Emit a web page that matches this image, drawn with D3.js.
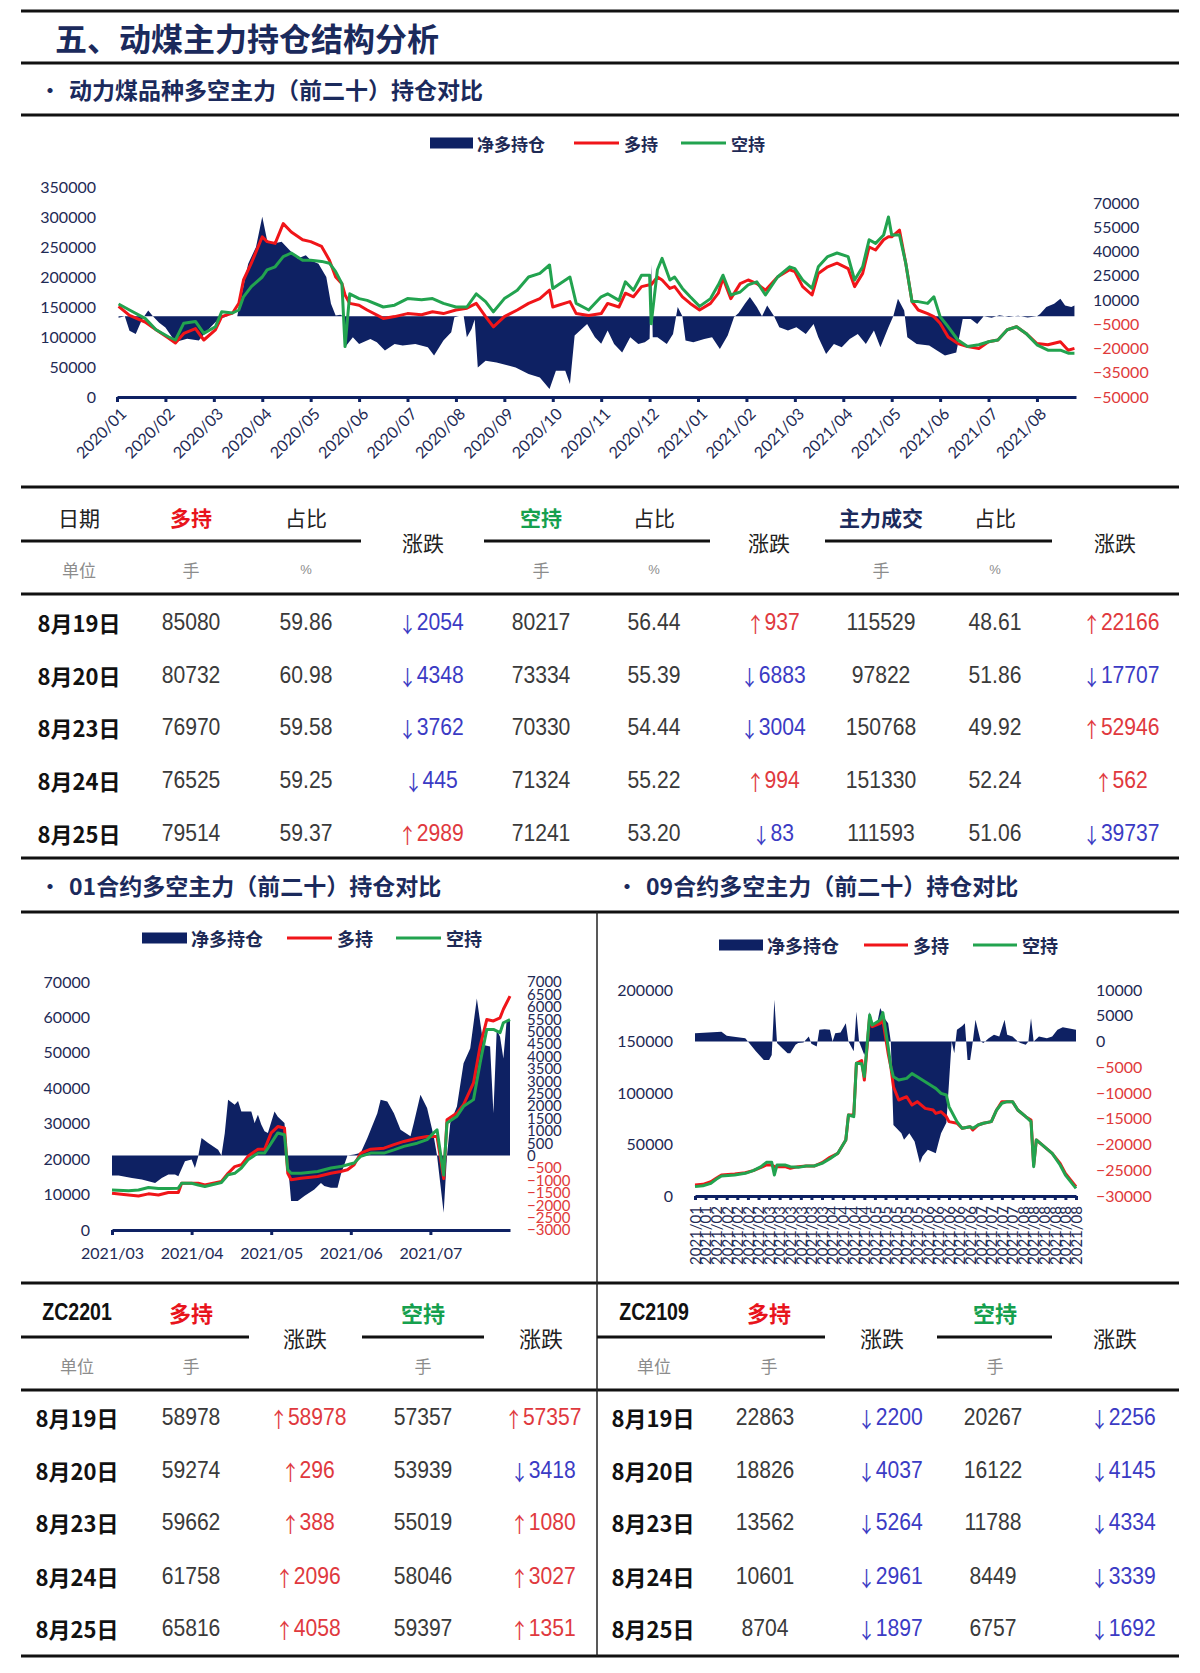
<!DOCTYPE html>
<html><head><meta charset="utf-8">
<script src="https://cdn.jsdelivr.net/npm/d3@7"></script>
<style>body{margin:0;background:#fff}</style>
</head><body>
<svg id="c" width="1200" height="1673"></svg>
<script>
// ================= DATA =================
// Top chart: 动力煤品种多空主力（前二十）持仓
const topLineDates = [
"2020/01/02","2020/01/09","2020/01/19","2020/01/26","2020/02/03","2020/02/07","2020/02/12","2020/02/19","2020/02/24","2020/03/02",
"2020/03/06","2020/03/13","2020/03/17","2020/03/20","2020/03/25","2020/04/01","2020/04/04","2020/04/09","2020/04/14","2020/04/19",
"2020/04/26","2020/05/01","2020/05/08","2020/05/13","2020/05/17","2020/05/21","2020/05/23","2020/05/26","2020/06/01","2020/06/06",
"2020/06/16","2020/06/23","2020/07/01","2020/07/10","2020/07/17","2020/07/24","2020/08/01","2020/08/08","2020/08/14","2020/08/20",
"2020/08/25","2020/09/01","2020/09/09","2020/09/16","2020/09/23","2020/09/29","2020/10/01","2020/10/12","2020/10/16","2020/10/24",
"2020/11/01","2020/11/05","2020/11/12","2020/11/16","2020/11/21","2020/11/26","2020/12/01","2020/12/02","2020/12/06","2020/12/09",
"2020/12/14","2020/12/17","2020/12/22","2020/12/27","2021/01/02","2021/01/09","2021/01/14","2021/01/17","2021/01/22","2021/01/28",
"2021/02/02","2021/02/07","2021/02/12","2021/02/19","2021/02/26","2021/03/01","2021/03/06","2021/03/12","2021/03/16","2021/03/22",
"2021/03/28","2021/04/04","2021/04/08","2021/04/13","2021/04/17","2021/04/21","2021/04/26","2021/04/29","2021/05/01","2021/05/06",
"2021/05/10","2021/05/14","2021/05/18","2021/05/24","2021/05/28","2021/06/01","2021/06/06","2021/06/12","2021/06/18","2021/06/25",
"2021/07/01","2021/07/07","2021/07/13","2021/07/19","2021/07/25","2021/08/01","2021/08/08","2021/08/16","2021/08/21","2021/08/25"];
const topLong = [
151000,136000,125000,112000,98000,90000,106000,114000,95000,112000,
134000,140000,156000,195000,223000,267000,259000,256000,289000,275000,
262000,259000,251000,228000,200000,189000,170000,156000,153000,145000,
131000,134000,139000,137000,142000,139000,145000,148000,156000,134000,
117000,134000,145000,156000,164000,178000,150000,159000,139000,136000,
139000,156000,150000,173000,167000,184000,187000,187000,200000,195000,
181000,184000,167000,156000,145000,156000,173000,198000,164000,189000,
195000,189000,178000,200000,212000,209000,184000,170000,206000,217000,
223000,214000,184000,206000,250000,245000,262000,267000,267000,278000,
223000,159000,145000,139000,134000,123000,100000,89000,84000,81000,
92000,95000,112000,117000,106000,89000,87000,92000,78000,81000];
const topShort = [
155000,145000,131000,112000,100000,95000,123000,126000,106000,117000,
142000,140000,145000,167000,184000,200000,212000,217000,234000,240000,
228000,228000,226000,223000,209000,189000,84000,172000,164000,161000,
150000,153000,164000,162000,164000,156000,150000,150000,172000,159000,
142000,164000,178000,200000,206000,220000,181000,200000,156000,145000,
167000,172000,161000,192000,178000,203000,203000,122000,212000,231000,
195000,200000,181000,167000,151000,164000,187000,203000,170000,175000,
187000,192000,170000,200000,217000,214000,195000,181000,217000,234000,
240000,234000,195000,217000,262000,256000,270000,300000,270000,270000,
223000,159000,159000,156000,167000,134000,117000,95000,84000,87000,
92000,95000,112000,117000,106000,87000,78000,78000,73000,73000];
const topNetDates = [
"2020/01/02","2020/01/06","2020/01/09","2020/01/13","2020/01/17","2020/01/21","2020/01/24","2020/01/28","2020/02/01","2020/02/07",
"2020/02/14","2020/02/21","2020/02/26","2020/03/04","2020/03/10","2020/03/16","2020/03/18","2020/03/23","2020/03/28","2020/04/01",
"2020/04/04","2020/04/08","2020/04/13","2020/04/18","2020/04/23","2020/04/28","2020/05/01","2020/05/06","2020/05/11","2020/05/14",
"2020/05/17","2020/05/20","2020/05/22","2020/05/23","2020/05/28","2020/06/01","2020/06/08","2020/06/12","2020/06/17","2020/06/23",
"2020/06/28","2020/07/06","2020/07/14","2020/07/18","2020/07/24","2020/07/29","2020/07/31","2020/08/03","2020/08/06","2020/08/08",
"2020/08/11","2020/08/13","2020/08/15","2020/08/20","2020/08/27","2020/09/04","2020/09/08","2020/09/16","2020/09/23","2020/09/29",
"2020/10/03","2020/10/09","2020/10/12","2020/10/15","2020/10/23","2020/10/28","2020/11/01","2020/11/05","2020/11/09","2020/11/14",
"2020/11/19","2020/11/24","2020/11/28","2020/12/01","2020/12/02","2020/12/03","2020/12/06","2020/12/12","2020/12/16","2020/12/19",
"2020/12/22","2020/12/24","2020/12/29","2021/01/05","2021/01/10","2021/01/15","2021/01/20","2021/01/24","2021/01/27","2021/01/31",
"2021/02/03","2021/02/07","2021/02/10","2021/02/13","2021/02/17","2021/02/20","2021/02/25","2021/03/02","2021/03/08","2021/03/13",
"2021/03/16","2021/03/21","2021/03/26","2021/03/31","2021/04/05","2021/04/10","2021/04/15","2021/04/20","2021/04/24","2021/04/29",
"2021/05/02","2021/05/05","2021/05/09","2021/05/11","2021/05/17","2021/05/25","2021/05/30","2021/06/04","2021/06/11","2021/06/15",
"2021/06/20","2021/06/24","2021/06/28","2021/07/03","2021/07/08","2021/07/14","2021/07/20","2021/07/26","2021/08/01","2021/08/03",
"2021/08/07","2021/08/12","2021/08/16","2021/08/19","2021/08/23","2021/08/25"];
const topNet = [
-1000,0,-9000,-11000,-2000,3500,0,-4000,-7000,-16000,
-14000,-15000,-9000,-1700,0,0,9700,32500,42800,61500,
47000,44900,46000,40800,35600,37700,34600,32500,24200,7700,
400,800,0,-19300,-13000,-17200,-14100,-16100,-21300,-17200,
-18200,-17200,-19300,-24400,-15100,-9900,-600,0,0,-13000,
-8000,-2000,-31700,-27500,-28600,-30600,-31700,-35800,-37900,-45100,
-33700,-33700,-42000,-12000,-4800,-13000,-17000,-8900,-17200,-22400,
-13000,-17200,-16100,-14000,32000,-13000,-13000,-17200,-11000,5600,
0,-15100,-16100,-14100,-13000,-20300,-12000,-600,2000,7700,
11800,5600,0,6600,0,-6800,-8900,-6800,-11000,-4800,
-13000,-23400,-17200,-19300,-14100,-11000,-17200,-8900,-19300,-6800,
0,10800,3500,-13000,-17200,-18200,-21300,-24400,-22400,-1700,
-1700,-4800,0,-1000,500,-500,300,-800,0,1400,
5600,7700,10800,6600,5600,6600];
const topMonthTicks = ["2020/01","2020/02","2020/03","2020/04","2020/05","2020/06","2020/07","2020/08","2020/09","2020/10",
"2020/11","2020/12","2021/01","2021/02","2021/03","2021/04","2021/05","2021/06","2021/07","2021/08"];
const topLeftTicks = [0,50000,100000,150000,200000,250000,300000,350000];
const topRightTicks = [-50000,-35000,-20000,-5000,10000,25000,40000,55000,70000];

// Bottom-left chart: ZC2201 (trading-day index)
const zc01LineDays = [0,5,8,11,14,17,20,21,24,26, 28,33,35,37,39,41,44,46,48,50, 52,53,54,57,62,66,69,71,73,75, 78,82,85,88,92,95,97,98,100,101, 104,106,109,111,113,115,117,118,120];
const zc01Long = [10400,9900,9600,10200,9900,10600,10600,13200,13200,13200, 12700,13700,16000,17900,18400,20800,22800,22800,27400,29200,
28800,16000,14200,14600,15100,16000,16500,17000,18400,21700, 22800,23100,24100,25000,25900,26400,26400,26400,14500,31100,
33000,35400,41500,51900,59400,59000,59900,62300,66000];
const zc01Short = [11300,11100,11300,12000,11700,11700,11800,13200,13200,12700, 12300,13400,15600,16000,17500,19800,21700,21700,24500,27400,
26900,17000,16000,16000,16500,17500,17900,18400,18900,20800, 21700,21700,22600,23600,24500,25500,27400,28300,15500,30200,
32100,34900,36800,47200,56600,56600,55700,58500,59400];
const zc01NetDays = [0,2,6,9,11,13,15,17,19,20, 22,24,25,26,27,29,32,33,34,35, 37,38,39,42,43,44,45,46,47,49,
50,52,53,54,56,58,61,63,64,66, 68,69,71,73,75,77,80,81,83,85, 87,90,91,93,95,97,98,100,101,102,
104,106,108,110,112,114,115,116,117,118, 119,120];
const zc01Net = [-800,-800,-900,-960,-1030,-1100,-900,-760,-760,-830, -230,-160,-500,-30,710,510,240,0,900,2250,
2050,2200,1780,1780,1310,1650,1250,980,910,1780, 1570,1310,-290,-1830,-1830,-1630,-1370,-1100,-1230,-1300,
-1300,-760,0,40,110,710,1710,2250,2180,1710, 1040,780,1310,2450,1920,780,0,-2300,0,1310,
1980,3720,4320,6330,4460,4400,1710,5060,4790,3920, 5460,5460];
const zc01TickDays = [0,24,48,72,96];
const zc01TickLabels = ["2021/03","2021/04","2021/05","2021/06","2021/07"];
const zc01LeftTicks = [0,10000,20000,30000,40000,50000,60000,70000];
const zc01RightTicks = [-3000,-2500,-2000,-1500,-1000,-500,0,500,1000,1500,2000,2500,3000,3500,4000,4500,5000,5500,6000,6500,7000];

// Bottom-right chart: ZC2109 (trading-day index)
const zc09LineDays = [0,3,6,8,10,15,19,22,25,27, 29,30,31,34,36,39,42,45,48,51, 54,57,58,60,61,63,64,66,67,70,
71,73,74,75,77,80,82,84,87,90, 91,93,95,96,99,101,104,105,107,109, 112,114,116,118,120,122,125,127,128,129, 132,135,138,140,144];
const zc09Long = [10700,11300,13900,17200,20400,21400,22600,24600,27800,30100, 30100,28500,28500,28500,26900,28500,29100,29100,32400,37500,
41400,54400,78600,78600,128800,131500,112600,174100,164400,167700, 170900,138500,125600,106100,93200,96400,88300,91600,85100,83500,
80200,81800,77000,72200,70600,65700,67300,64100,68900,70600, 72200,83500,91600,91600,91600,83500,77000,73800,30000,54400,
47900,41400,31700,22000,9100];
const zc09Short = [9100,10000,12300,16200,19400,20400,22000,24600,28500,32700, 32700,20400,30100,30100,28500,27800,29100,29100,31700,36200,
41400,54400,78600,77000,128800,128300,116000,175700,166000,170900, 178000,145000,125600,115700,112600,114200,118800,115700,110900,106100,
104500,99700,98100,86700,72200,65700,67300,65700,68900,70600, 72200,83500,90000,91600,91600,83500,77000,72200,28500,54400,
47900,41400,30100,20400,7400];
const zc09NetDays = [0,10,12,14,19,20,21,23,26,28, 29,30,31,33,35,36,38,39,41,43, 44,46,47,49,51,52,53,55,57,58,
60,61,62,64,65,66,67,69,70,72, 73,74,75,78,79,81,83,85,86,88, 91,92,93,95,96,97,98,99,101,102,
103,104,105,106,108,109,111,113,115,117, 118,120,122,123,125,126,127,128,130,133, 135,137,139,141,144];
const zc09Net = [1600,1900,1100,970,650,0,-650,-1900,-3600,-3600, -2600,8100,-300,-1300,-2300,-2300,-650,-300,-200,970,
-450,-970,2260,2390,2260,0,1600,1750,3560,0, -1900,5800,0,-2600,-650,5800,2900,3900,6500,4200,
3560,0,-16200,-17800,-19100,-17800,-19400,-23600,-22300,-21000, -21700,-19700,-17800,-15800,-8000,0,-2300,2300,3000,3560,
-3600,-3600,0,4200,0,-300,650,1300,970,4200, 1300,970,0,-300,-650,0,4500,0,970,650,
970,2260,2780,2590,2260];
const zc09TickLabels = ["2021/01","2021/01","2021/02","2021/02","2021/02","2021/02","2021/02",
"2021/03","2021/03","2021/03","2021/03","2021/03","2021/03","2021/04","2021/04","2021/04","2021/04",
"2021/05","2021/05","2021/05","2021/05","2021/05","2021/06","2021/06","2021/06","2021/06","2021/06",
"2021/07","2021/07","2021/07","2021/07","2021/08","2021/08","2021/08","2021/08","2021/08","2021/08"];
const zc09TickStep = 4;
const zc09LeftTicks = [0,50000,100000,150000,200000];
const zc09RightTicks = [-30000,-25000,-20000,-15000,-10000,-5000,0,5000,10000];

// Tables
const tableDates = ["8月19日","8月20日","8月23日","8月24日","8月25日"];
const mainLong = [85080,80732,76970,76525,79514];
const mainLongPct = [59.86,60.98,59.58,59.25,59.37];
const mainLongChg = [-2054,-4348,-3762,-445,2989];
const mainShort = [80217,73334,70330,71324,71241];
const mainShortPct = [56.44,55.39,54.44,55.22,53.20];
const mainShortChg = [937,-6883,-3004,994,-83];
const mainVol = [115529,97822,150768,151330,111593];
const mainVolPct = [48.61,51.86,49.92,52.24,51.06];
const mainVolChg = [22166,-17707,52946,562,-39737];
const zc01TLong = [58978,59274,59662,61758,65816];
const zc01TLongChg = [58978,296,388,2096,4058];
const zc01TShort = [57357,53939,55019,58046,59397];
const zc01TShortChg = [57357,-3418,1080,3027,1351];
const zc09TLong = [22863,18826,13562,10601,8704];
const zc09TLongChg = [-2200,-4037,-5264,-2961,-1897];
const zc09TShort = [20267,16122,11788,8449,6757];
const zc09TShortChg = [-2256,-4145,-4334,-3339,-1692];

// ================= STYLE =================
const NAVY = '#0e2163', RED = '#f01519', GREEN = '#22a34f', AX = '#1e2a55', NEG = '#e03a3a';
const TNAVY = '#1b2a5c', UP = '#e0393e', DOWN = '#3b3bc4', RULE = '#111';
const CJK = '"Noto Sans CJK SC", sans-serif';
const LAT = 'Lato, "Noto Sans CJK SC", sans-serif';
const NUM = '"Liberation Sans", Arial, sans-serif';

const svg = d3.select('#c');

function txt(x, y, s, o = {}) {
  const sx = o.sx || 1;
  return svg.append('text')
    .attr('transform', `translate(${x},${y})` + (sx !== 1 ? ` scale(${sx},1)` : ''))
    .attr('text-anchor', o.anchor || 'middle')
    .attr('dominant-baseline', 'central')
    .attr('font-family', o.ff || CJK)
    .attr('font-size', o.fs || 20)
    .attr('font-weight', o.fw || 400)
    .attr('fill', o.fill || '#222')
    .text(s);
}
function hline(y, x1, x2, w = 3) {
  svg.append('line').attr('x1', x1).attr('x2', x2).attr('y1', y).attr('y2', y)
    .attr('stroke', RULE).attr('stroke-width', w);
}

// ================= HEADINGS / RULES =================
[11, 63, 115, 487, 594, 858, 912, 1283, 1390, 1656].forEach(y => hline(y, 21, 1179, 3));
svg.append('line').attr('x1', 597).attr('x2', 597).attr('y1', 912).attr('y2', 1656).attr('stroke', '#222').attr('stroke-width', 1.5);

txt(55, 37, '五、动煤主力持仓结构分析', {anchor: 'start', fs: 32, fw: 700, fill: TNAVY});
txt(50, 89, '•', {fs: 20, fw: 700, fill: TNAVY});
txt(69, 89, '动力煤品种多空主力（前二十）持仓对比', {anchor: 'start', fs: 23, fw: 700, fill: TNAVY});
txt(50, 885, '•', {fs: 20, fw: 700, fill: TNAVY});
txt(69, 885, '01合约多空主力（前二十）持仓对比', {anchor: 'start', fs: 23, fw: 700, fill: TNAVY});
txt(627, 885, '•', {fs: 20, fw: 700, fill: TNAVY});
txt(646, 885, '09合约多空主力（前二十）持仓对比', {anchor: 'start', fs: 23, fw: 700, fill: TNAVY});

// ================= LEGENDS =================
function legend(y, boxX, boxW, redX, greenX, lineW, fs) {
  svg.append('rect').attr('x', boxX).attr('y', y - 5.5).attr('width', boxW).attr('height', 11).attr('fill', NAVY);
  txt(boxX + boxW + 4, y, '净多持仓', {anchor: 'start', fs, fw: 700, fill: AX});
  svg.append('line').attr('x1', redX).attr('x2', redX + lineW).attr('y1', y).attr('y2', y).attr('stroke', RED).attr('stroke-width', 3);
  txt(redX + lineW + 5, y, '多持', {anchor: 'start', fs, fw: 700, fill: AX});
  svg.append('line').attr('x1', greenX).attr('x2', greenX + lineW).attr('y1', y).attr('y2', y).attr('stroke', GREEN).attr('stroke-width', 3);
  txt(greenX + lineW + 5, y, '空持', {anchor: 'start', fs, fw: 700, fill: AX});
}
legend(143, 430, 43, 574, 681, 45, 17);
legend(938, 142, 45, 287, 396, 45, 18);
legend(945, 719, 44, 864, 973, 44, 18);

// ================= CHART HELPER =================
function styleAxisText(g, fs) {
  g.selectAll('.tick text').attr('font-family', LAT).attr('font-size', fs).attr('fill', AX);
}
function drawSeries(xs, yL, yR, lineX, long, short, netX, net) {
  svg.append('path').datum(netX.map((d, i) => [d, net[i]]))
    .attr('d', d3.area().x(d => xs(d[0])).y0(yR(0)).y1(d => yR(d[1])))
    .attr('fill', NAVY);
  const ln = d3.line().x(d => xs(d[0])).y(d => yL(d[1]));
  svg.append('path').datum(lineX.map((d, i) => [d, long[i]])).attr('d', ln)
    .attr('fill', 'none').attr('stroke', RED).attr('stroke-width', 3).attr('stroke-linejoin', 'round');
  svg.append('path').datum(lineX.map((d, i) => [d, short[i]])).attr('d', ln)
    .attr('fill', 'none').attr('stroke', GREEN).attr('stroke-width', 3).attr('stroke-linejoin', 'round');
}
function yAxes(yL, yR, leftX, rightX, lt, rt, fs, rfs) {
  const gl = svg.append('g').attr('transform', `translate(${leftX},0)`)
    .call(d3.axisLeft(yL).tickValues(lt).tickSize(0).tickPadding(0).tickFormat(d3.format('d')));
  gl.select('.domain').remove();
  styleAxisText(gl, fs);
  const gr = svg.append('g').attr('transform', `translate(${rightX},0)`)
    .call(d3.axisRight(yR).tickValues(rt).tickSize(0).tickPadding(0).tickFormat(d3.format('d')));
  gr.select('.domain').remove();
  styleAxisText(gr, rfs);
  gr.selectAll('.tick text').attr('fill', d => d < 0 ? NEG : AX);
}
function styleXAxis(g) {
  g.select('.domain').attr('stroke', NAVY).attr('stroke-width', 3);
  g.selectAll('.tick line').attr('stroke', NAVY).attr('stroke-width', 3);
}

// ================= TOP CHART =================
const mpos = s => {
  const [y, m, d] = s.split('/').map(Number);
  const dim = new Date(y, m, 0).getDate();
  return (y - 2020) * 12 + (m - 1) + (d - 1) / dim;
};
const xT = d3.scaleLinear().domain([0, mpos('2021/08/26')]).range([117, 1076]);
const yTL = d3.scaleLinear().domain([0, 350000]).range([397, 187]);
const yTR = d3.scaleLinear().domain([-50000, 70000]).range([397, 203]);
drawSeries(xT, yTL, yTR, topLineDates.map(mpos), topLong, topShort, topNetDates.map(mpos), topNet);
yAxes(yTL, yTR, 96, 1093, topLeftTicks, topRightTicks, 16, 16);
{
  const g = svg.append('g').attr('transform', 'translate(0,397)')
    .call(d3.axisBottom(xT).tickValues(d3.range(topMonthTicks.length)).tickFormat(i => topMonthTicks[i]).tickSize(5).tickSizeOuter(0));
  styleXAxis(g);
  styleAxisText(g, 16);
  g.selectAll('.tick text').attr('x', 0).attr('y', 0).attr('dy', '0.35em')
    .attr('text-anchor', 'end').attr('transform', 'translate(6,14) rotate(-45)');
}

// ================= BOTTOM-LEFT CHART =================
const xL = d3.scaleLinear().domain([0, 120]).range([112, 510]);
const yLL = d3.scaleLinear().domain([0, 70000]).range([1230, 982]);
const yLR = d3.scaleLinear().domain([-3000, 7000]).range([1230, 982]);
drawSeries(xL, yLL, yLR, zc01LineDays, zc01Long, zc01Short, zc01NetDays, zc01Net);
yAxes(yLL, yLR, 90, 527, zc01LeftTicks, zc01RightTicks, 16, 15);
{
  const g = svg.append('g').attr('transform', 'translate(0,1230)')
    .call(d3.axisBottom(xL).tickValues(zc01TickDays).tickFormat((d, i) => zc01TickLabels[i]).tickSize(5).tickSizeOuter(0));
  styleXAxis(g);
  styleAxisText(g, 16);
  g.selectAll('.tick text').attr('y', 23).attr('dy', '0.35em');
}

// ================= BOTTOM-RIGHT CHART =================
const xR = d3.scaleLinear().domain([0, zc09TickStep * (zc09TickLabels.length - 1)]).range([695, 1076]);
const yRL = d3.scaleLinear().domain([0, 200000]).range([1196, 990]);
const yRR = d3.scaleLinear().domain([-30000, 10000]).range([1196, 990]);
drawSeries(xR, yRL, yRR, zc09LineDays, zc09Long, zc09Short, zc09NetDays, zc09Net);
yAxes(yRL, yRR, 673, 1096, zc09LeftTicks, zc09RightTicks, 16, 16);
{
  const tv = zc09TickLabels.map((d, i) => i * zc09TickStep);
  const g = svg.append('g').attr('transform', 'translate(0,1196)')
    .call(d3.axisBottom(xR).tickValues(tv).tickFormat((d, i) => zc09TickLabels[i]).tickSize(4).tickSizeOuter(0));
  styleXAxis(g);
  styleAxisText(g, 15);
  g.selectAll('.tick text').attr('x', 0).attr('y', 0).attr('dy', '0.35em')
    .attr('text-anchor', 'end').attr('transform', 'translate(0,10) rotate(-90)');
}

// ================= TABLES =================
const NUMO = {ff: NUM, fs: 24, sx: 0.88, fill: '#3a3a3a'};
function chg(x, y, v) {
  const t = txt(x, y, '', {ff: NUM, fs: 24, sx: 0.88, fill: v >= 0 ? UP : DOWN});
  t.append('tspan').attr('font-family', CJK).attr('font-size', 21).text(v >= 0 ? '↑' : '↓');
  t.append('tspan').text(Math.abs(v));
}
function segs(y, arr) { arr.forEach(([a, b]) => hline(y, a, b, 3)); }

// main table
const rowY = [622, 675, 727, 780, 833];
txt(79, 517, '日期', {fs: 21});
txt(191, 517, '多持', {fs: 21, fw: 700, fill: '#e8141c'});
txt(306, 517, '占比', {fs: 21});
txt(423, 542, '涨跌', {fs: 21});
txt(541, 517, '空持', {fs: 21, fw: 700, fill: '#16a04e'});
txt(654, 517, '占比', {fs: 21});
txt(769, 542, '涨跌', {fs: 21});
txt(881, 517, '主力成交', {fs: 21, fw: 700, fill: TNAVY});
txt(995, 517, '占比', {fs: 21});
txt(1115, 542, '涨跌', {fs: 21});
segs(541, [[21, 361], [484, 710], [825, 1052]]);
[[79, '单位'], [191, '手'], [541, '手'], [881, '手']].forEach(([x, s]) => txt(x, 569, s, {fs: 17, fill: '#8c8c8c'}));
[306, 654, 995].forEach(x => txt(x, 569, '%', {ff: NUM, fs: 13, fill: '#8c8c8c'}));
tableDates.forEach((d, i) => {
  const y = rowY[i];
  txt(79, y, d, {fs: 22, fw: 700, fill: '#111'});
  txt(191, y, mainLong[i], NUMO);
  txt(306, y, mainLongPct[i].toFixed(2), NUMO);
  chg(431, y, mainLongChg[i]);
  txt(541, y, mainShort[i], NUMO);
  txt(654, y, mainShortPct[i].toFixed(2), NUMO);
  chg(773, y, mainShortChg[i]);
  txt(881, y, mainVol[i], NUMO);
  txt(995, y, mainVolPct[i].toFixed(2), NUMO);
  chg(1121, y, mainVolChg[i]);
});

// contract tables
const rowY2 = [1417, 1470, 1522, 1576, 1628];
function contractTable(code, c, long, longChg, short, shortChg, segArr) {
  txt(c.hdr[0], 1312, code, {ff: NUM, fs: 23, fw: 700, sx: 0.85, fill: '#111'});
  txt(c.hdr[1], 1312, '多持', {fs: 22, fw: 700, fill: '#e8141c'});
  txt(c.hdr[2], 1337, '涨跌', {fs: 22});
  txt(c.hdr[3], 1312, '空持', {fs: 22, fw: 700, fill: '#16a04e'});
  txt(c.hdr[4], 1337, '涨跌', {fs: 22});
  segs(1337, segArr);
  txt(c.hdr[0], 1365, '单位', {fs: 17, fill: '#8c8c8c'});
  txt(c.hdr[1], 1365, '手', {fs: 17, fill: '#8c8c8c'});
  txt(c.hdr[3], 1365, '手', {fs: 17, fill: '#8c8c8c'});
  tableDates.forEach((d, i) => {
    const y = rowY2[i];
    txt(c.col[0], y, d, {fs: 22, fw: 700, fill: '#111'});
    txt(c.col[1], y, long[i], NUMO);
    chg(c.col[2], y, longChg[i]);
    txt(c.col[3], y, short[i], NUMO);
    chg(c.col[4], y, shortChg[i]);
  });
}
contractTable('ZC2201', {hdr: [77, 191, 305, 423, 541], col: [77, 191, 308, 423, 543]},
  zc01TLong, zc01TLongChg, zc01TShort, zc01TShortChg, [[21, 249], [362, 484]]);
contractTable('ZC2109', {hdr: [654, 769, 882, 995, 1115], col: [653, 765, 890, 993, 1123]},
  zc09TLong, zc09TLongChg, zc09TShort, zc09TShortChg, [[597, 825], [937, 1052]]);
</script>
</body></html>
